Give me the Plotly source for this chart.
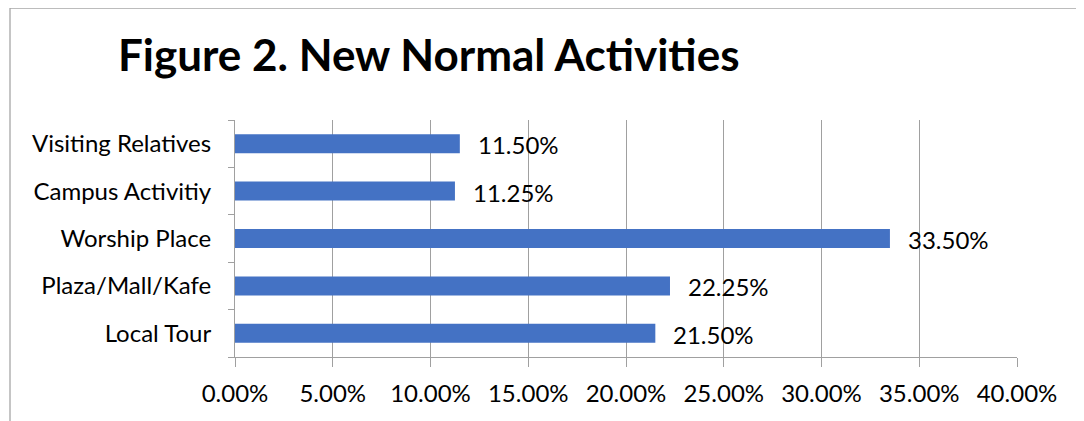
import plotly.graph_objects as go

categories = ["Local Tour", "Plaza/Mall/Kafe", "Worship Place", "Campus Activitiy", "Visiting Relatives"]
values = [0.215, 0.2225, 0.335, 0.1125, 0.115]
value_labels = ["21.50%", "22.25%", "33.50%", "11.25%", "11.50%"]
x_ticks = [0, 0.05, 0.10, 0.15, 0.20, 0.25, 0.30, 0.35, 0.40]

FONT = "Lato"
OFF = 8  # page body margin
W, H = 1084, 421
# plot area in page pixels: x 235..1017, y 120..357
L = 235 - OFF
T = 120 - OFF
R = W - (1017 - OFF)
B = H - (357 - OFF)

fig = go.Figure()
fig.add_trace(go.Bar(
    x=values, y=categories, orientation="h",
    marker=dict(color="#4472C4", line=dict(width=0)),
    hoverinfo="skip",
))

for v, c, lab in zip(values, categories, value_labels):
    fig.add_annotation(x=v, y=c, text=lab, showarrow=False, xanchor="left",
                       yanchor="middle", xshift=16, yshift=-1,
                       font=dict(family=FONT, size=24, color="#000000"))

pw = W - L - R
ph = H - T - B
def px_x(p):
    return (p - OFF - L) / pw
def px_y(p):
    return (H - B - (p - OFF)) / ph

# chart border (top and left visible)
fig.add_shape(type="line", xref="paper", yref="paper",
              x0=px_x(10), x1=px_x(1100), y0=px_y(8), y1=px_y(8),
              line=dict(color="#A6A6A6", width=1.3))
fig.add_shape(type="line", xref="paper", yref="paper",
              x0=px_x(10), x1=px_x(10), y0=px_y(8), y1=px_y(440),
              line=dict(color="#A6A6A6", width=1.3))

fig.update_layout(
    width=W, height=H,
    margin=dict(l=L, r=R, t=T, b=B),
    paper_bgcolor="white", plot_bgcolor="white",
    bargap=0.6,
    showlegend=False,
    title=dict(text="<b>Figure 2. New Normal Activities</b>",
               x=(118 - OFF) / W, xanchor="left", xref="container",
               y=1 - (56 - OFF) / H, yanchor="middle", yref="container",
               font=dict(family=FONT, size=44, color="#000000")),
    font=dict(family=FONT, size=24, color="#000000"),
)
fig.update_xaxes(
    range=[0, 0.40], tickvals=x_ticks, tickformat=".2%",
    showgrid=True, gridcolor="#A0A0A0", gridwidth=1,
    showline=True, linecolor="#A0A0A0", linewidth=1,
    ticks="outside", ticklen=9, tickcolor="#A0A0A0",
    ticklabelstandoff=6,
    tickfont=dict(family=FONT, size=24, color="#000000"),
    zeroline=False, fixedrange=True,
)
fig.update_yaxes(
    categoryorder="array", categoryarray=categories,
    showgrid=False,
    showline=True, linecolor="#A0A0A0", linewidth=1,
    ticks="outside", ticklen=6, tickcolor="#A0A0A0", tickson="boundaries",
    ticklabelstandoff=18,
    tickfont=dict(family=FONT, size=24, color="#000000"),
    fixedrange=True,
)

fig.write_html("out.html")
